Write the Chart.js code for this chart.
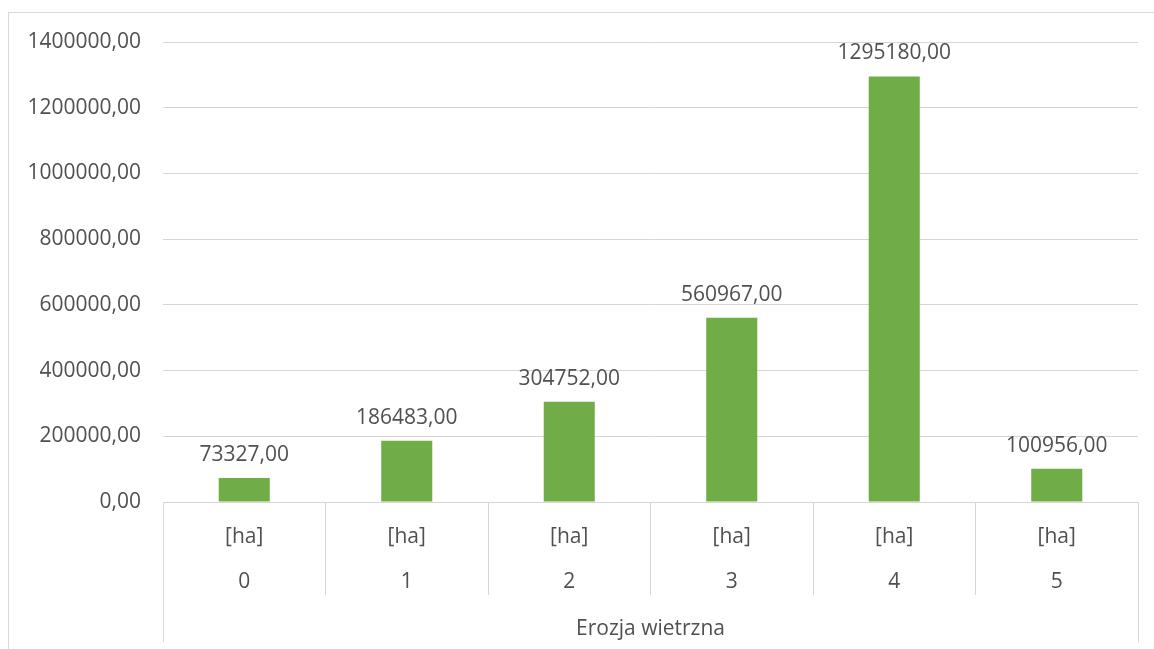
<!DOCTYPE html>
<html>
<head>
<meta charset="utf-8">
<script src="https://cdn.jsdelivr.net/npm/chart.js@4/dist/chart.umd.min.js"></script>
<style>
    html, body { margin: 0; padding: 0; background: #fff; overflow: hidden; }
    #frame {
        position: absolute; left: 8px; top: 12px;
        width: 1200px; height: 700px;
        border: 1px solid #d9d9d9;
    }
    #wrap { position: absolute; left: 0; top: 0; width: 1154px; height: 649px; }
</style>
</head>
<body>
<div id="frame"></div>
<div id="wrap"><canvas id="chart" width="1154" height="649"></canvas></div>
<script>
    var units = ['[ha]', '[ha]', '[ha]', '[ha]', '[ha]', '[ha]'];
    var classes = ['0', '1', '2', '3', '4', '5'];
    var groupTitle = 'Erozja wietrzna';
    var areas = [73327, 186483, 304752, 560967, 1295180, 100956];

    var yMax = 1400000;
    var yStep = 200000;

    var textColor = '#505050';
    var gridColor = '#d6d6d6';
    var barColor = '#70ad47';
    var fontFamily = "'Open Sans', 'Noto Sans', sans-serif";

    function fmt(v) {
        return Number(v).toFixed(2).replace('.', ',');
    }

    var labels = classes.map(function (c, i) { return [units[i], c]; });

    var tickLen = 93;

    // value labels above each bar
    var valueLabels = {
        id: 'valueLabels',
        afterDatasetsDraw: function (chart) {
            var ctx = chart.ctx;
            var meta = chart.getDatasetMeta(0);
            ctx.save();
            ctx.font = '21px ' + fontFamily;
            ctx.fillStyle = textColor;
            ctx.textAlign = 'center';
            ctx.textBaseline = 'middle';
            meta.data.forEach(function (bar, i) {
                ctx.fillText(fmt(areas[i]), bar.x, bar.y - 23);
            });
            ctx.restore();
        }
    };

    // outer group separators (the lower "Erozja wietrzna" row)
    var groupLines = {
        id: 'groupLines',
        afterDraw: function (chart) {
            var a = chart.chartArea;
            var ctx = chart.ctx;
            ctx.save();
            ctx.strokeStyle = gridColor;
            ctx.lineWidth = 1;
            [a.left, a.right].forEach(function (x) {
                var px = Math.round(x - 0.5) + 0.5;
                ctx.beginPath();
                ctx.moveTo(px, a.bottom + tickLen - 1);
                ctx.lineTo(px, a.bottom + 140);
                ctx.stroke();
            });
            ctx.restore();
        }
    };

    new Chart(document.getElementById('chart').getContext('2d'), {
        type: 'bar',
        data: {
            labels: labels,
            datasets: [{
                data: areas,
                backgroundColor: barColor,
                borderWidth: 0,
                categoryPercentage: 1,
                barPercentage: 0.314
            }]
        },
        options: {
            responsive: false,
            animation: false,
            layout: { padding: { left: 0, right: 16, top: 42, bottom: 0 } },
            plugins: {
                legend: { display: false },
                tooltip: { enabled: false }
            },
            scales: {
                x: {
                    offset: true,
                    grid: {
                        offset: true,
                        drawOnChartArea: false,
                        drawTicks: true,
                        tickLength: tickLen,
                        color: gridColor,
                        lineWidth: 1
                    },
                    border: { display: true, color: gridColor, width: 1 },
                    ticks: {
                        color: textColor,
                        font: { family: fontFamily, size: 21, lineHeight: 45 / 21 },
                        padding: 13 - tickLen,
                        maxRotation: 0,
                        autoSkip: false
                    },
                    title: {
                        display: true,
                        text: groupTitle,
                        color: textColor,
                        font: { family: fontFamily, size: 21 },
                        padding: { top: 0, bottom: 7 }
                    },
                    afterFit: function (scale) { scale.height = 147; }
                },
                y: {
                    min: 0,
                    max: yMax,
                    grid: { color: gridColor, lineWidth: 1, drawTicks: false },
                    border: { display: false },
                    ticks: {
                        stepSize: yStep,
                        color: textColor,
                        font: { family: fontFamily, size: 21 },
                        padding: 22,
                        callback: function (v) { return fmt(v); }
                    },
                    afterFit: function (scale) { scale.width = 163; }
                }
            }
        },
        plugins: [valueLabels, groupLines]
    });
</script>
</body>
</html>
